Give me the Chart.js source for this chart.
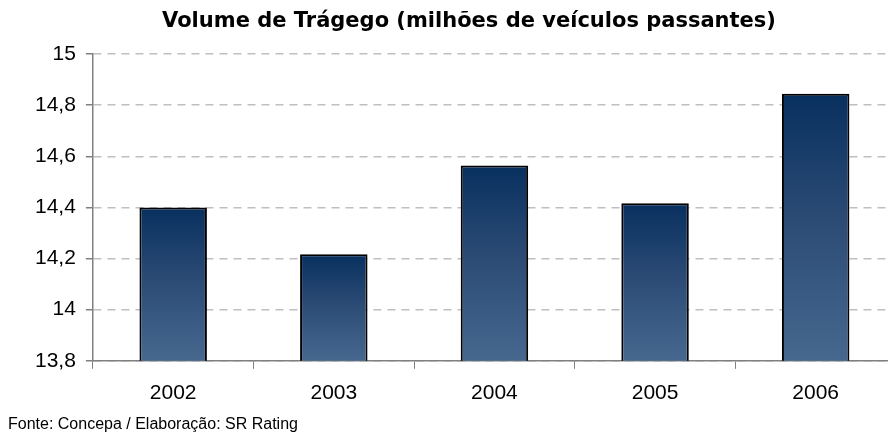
<!DOCTYPE html>
<html>
<head>
<meta charset="utf-8">
<script src="https://cdn.jsdelivr.net/npm/chart.js@4.4.0/dist/chart.umd.min.js"></script>
<style>
    body { margin: 0; background: #fff; }
    #wrap { position: relative; width: 888px; height: 448px; overflow: hidden; }
    #box { position: absolute; left: 0; top: 0; width: 938px; height: 448px; }
    #titulo { position: absolute; left: 269px; width: 400px; top: 8px; white-space: nowrap; display: flex; justify-content: center;
              font-family: "DejaVu Sans", Verdana, sans-serif; font-weight: bold; font-size: 21px; color: #000; }
    #fonte { position: absolute; left: 8px; top: 415px; font-family: "Liberation Sans", Arial, sans-serif; font-size: 16px; color: #000; }
</style>
</head>
<body>
<div id="wrap">
    <div id="box"><canvas id="trafegoChart"></canvas></div>
    <div id="titulo"><span>Volume de Trágego (milhões de veículos passantes)</span></div>
    <div id="fonte">Fonte: Concepa / Elaboração: SR Rating</div>
</div>
<script>
const years = ['2002', '2003', '2004', '2005', '2006'];
const volume = [14.40, 14.217, 14.564, 14.416, 14.845];
const yTicks = [13.8, 14, 14.2, 14.4, 14.6, 14.8, 15];

function barGradient(context) {
    const chart = context.chart;
    if (!chart.chartArea || context.type !== 'data') return '#3a5d86';
    const y = chart.scales.y;
    const top = y.getPixelForValue(context.raw);
    const bottom = y.getPixelForValue(yTicks[0]);
    const g = chart.ctx.createLinearGradient(0, top, 0, bottom);
    g.addColorStop(0, '#08305f');
    g.addColorStop(0.45, '#2a4a74');
    g.addColorStop(1, '#46688f');
    return g;
}

function formatTick(v) {
    return String(Math.round(v * 10) / 10).replace('.', ',');
}

new Chart(document.getElementById('trafegoChart').getContext('2d'), {
    type: 'bar',
    data: {
        labels: years,
        datasets: [{
            label: 'Volume',
            data: volume,
            backgroundColor: barGradient,
            borderColor: '#000',
            borderWidth: 2,
            borderSkipped: false,
            categoryPercentage: 0.84,
            barPercentage: 0.5
        }]
    },
    options: {
        responsive: true,
        maintainAspectRatio: false,
        animation: false,
        layout: { padding: { left: 25, right: 42, top: 54, bottom: 30 } },
        plugins: {
            legend: { display: false },
            tooltip: { enabled: false },
            title: { display: false }
        },
        scales: {
            x: {
                grid: { drawOnChartArea: false, offset: true, tickLength: 8, color: '#808080', tickColor: '#808080' },
                border: { color: '#808080', width: 1.5 },
                ticks: { color: '#000', padding: 12, font: { family: '"Liberation Sans", Arial, sans-serif', size: 21 } }
            },
            y: {
                min: 13.8,
                max: 15,
                afterBuildTicks: axis => { axis.ticks = yTicks.map(v => ({ value: v })); },
                grid: { color: '#bfbfbf', tickColor: '#808080', tickLength: 7, lineWidth: 1.5 },
                border: { color: '#808080', width: 1.5, dash: [8, 6] },
                ticks: { color: '#000', padding: 10, callback: formatTick, font: { family: '"Liberation Sans", Arial, sans-serif', size: 21 } }
            }
        }
    }
});
</script>
</body>
</html>
